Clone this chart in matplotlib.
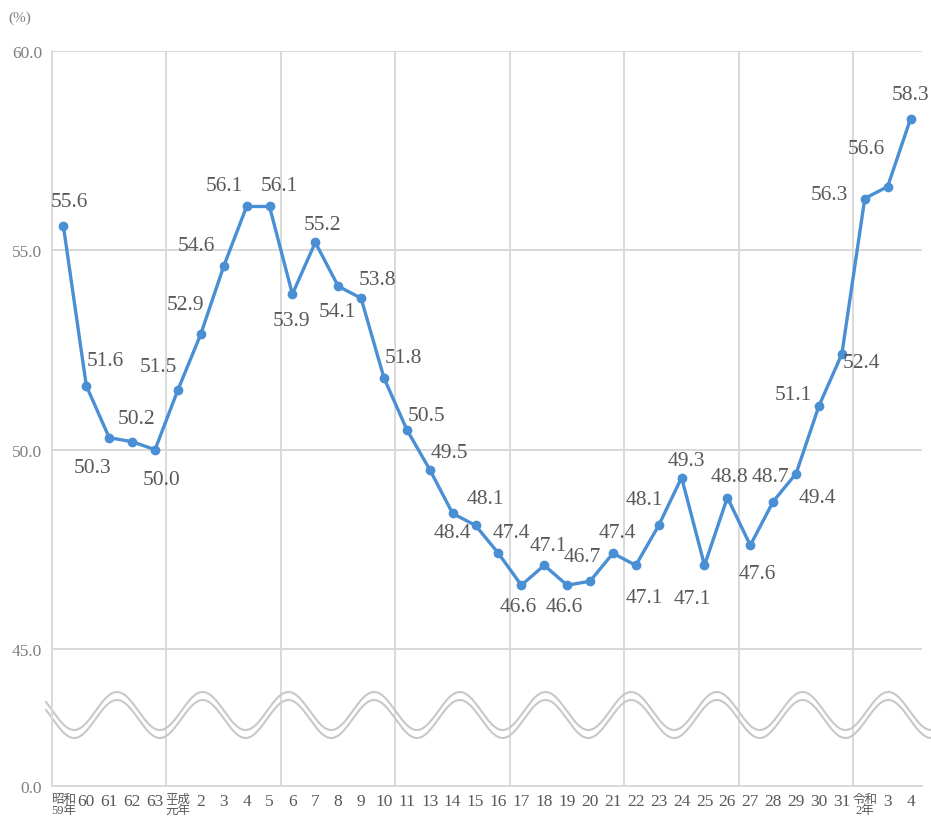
import numpy as np
import matplotlib.pyplot as plt

plt.rcParams['font.family'] = ['Liberation Serif', 'Noto Sans CJK JP']

years = (['昭和\n59年', '60', '61', '62', '63', '平成\n元年']
         + [str(n) for n in range(2, 12)]
         + [str(n) for n in range(13, 32)]
         + ['令和\n2年', '3', '4'])
rates = [55.6, 51.6, 50.3, 50.2, 50.0, 51.5, 52.9, 54.6, 56.1, 56.1,
         53.9, 55.2, 54.1, 53.8, 51.8, 50.5, 49.5, 48.4, 48.1, 47.4,
         46.6, 47.1, 46.6, 46.7, 47.4, 47.1, 48.1, 49.3, 47.1, 48.8,
         47.6, 48.7, 49.4, 51.1, 52.4, 56.3, 56.6, 58.3]

# where each value label sits relative to its point (pixels, y down)
label_offsets = [(6, -25), (19, -25), (-17, 30), (4, -23), (7, 30),
                 (-20, -23), (-15, -30), (-27, -21), (-22, -21), (10, -21),
                 (-1, 26), (7, -18), (-1, 25), (16, -19), (19, -20),
                 (20, -14), (20, -17), (0, 19), (10, -27), (13, -21),
                 (-3, 21), (4, -20), (-3, 21), (-8, -25), (4, -21),
                 (8, 32), (-14, -26), (5, -17), (-12, 33), (2, -21),
                 (7, 28), (-3, -25), (21, 24), (-26, -11), (20, 9),
                 (-35, -4), (-21, -38), (0, -24)]

GRID = '#d9d9d9'
LINE = '#4a8fd4'

# squeeze everything below 45 into a short band (broken axis)
k = (137 / 39.87) / 45


def fwd(y):
    y = np.asarray(y, dtype=float)
    return np.where(y >= 45, y, 45 - (45 - y) * k)


def inv(y):
    y = np.asarray(y, dtype=float)
    return np.where(y >= 45, y, 45 - (45 - y) / k)


fig = plt.figure(figsize=(9.31, 8.29), dpi=100)
ax = fig.add_axes([52 / 931, 42 / 829, 870 / 931, 735 / 829])

x = np.arange(len(rates))
ax.set_yscale('function', functions=(fwd, inv))
ax.set_xlim(-0.5, len(rates) - 0.5)
ax.set_ylim(0, 60)

for y in [45, 50, 55, 60]:
    ax.axhline(y, color=GRID, lw=1.4, zorder=0)
for xv in np.arange(4.5, len(rates) - 0.5, 5):
    ax.axvline(xv, color=GRID, lw=1.4, zorder=0)

ax.plot(x, rates, color=LINE, lw=2.4, marker='o', ms=6, zorder=3)

for i, v in enumerate(rates):
    dx, dy = label_offsets[i]
    ax.annotate(f'{v:.1f}', (i, v), xytext=(dx * 0.72, -dy * 0.72),
                textcoords='offset points', ha='center', va='center',
                fontsize=15.5, color='#595959', zorder=4)

# wavy break marks between 0 and 45
t = np.linspace(-6 / 870, 1.012, 1200)
px = 52 + t * 870
wave = 712 - 19 * np.cos(2 * np.pi * (px - 117) / 85.7)
for shift in [0, 8]:
    ax.plot(t, (787 - (wave + shift)) / 735, color='#c8c8c8', lw=1.5,
            transform=ax.transAxes, clip_on=False, zorder=2)

for side in ['top', 'right']:
    ax.spines[side].set_visible(False)
for side in ['left', 'bottom']:
    ax.spines[side].set_color(GRID)
    ax.spines[side].set_linewidth(1.4)

ax.set_yticks([0, 45, 50, 55, 60])
ax.set_yticklabels([f'{v:.1f}' for v in [0, 45, 50, 55, 60]])
ax.tick_params(axis='y', length=0, pad=7, labelsize=12.5, labelcolor='#7f7f7f')

ax.set_xticks(x)
ax.set_xticklabels(years)
ax.tick_params(axis='x', length=0, pad=5, labelsize=12.5, labelcolor='#595959')
for lab in ax.get_xticklabels():
    if '\n' in lab.get_text():
        lab.set_fontsize(9)
        lab.set_linespacing(0.9)
ax.set_xticks(np.arange(2, len(rates), 5), minor=True)
ax.tick_params(axis='x', which='minor', direction='in', length=4,
               color=GRID, width=1.2)

fig.text(20 / 931, 1 - 18 / 829, '(%)', ha='center', va='center',
         fontsize=11, color='#7f7f7f')

fig.savefig('out.png', dpi=100)
